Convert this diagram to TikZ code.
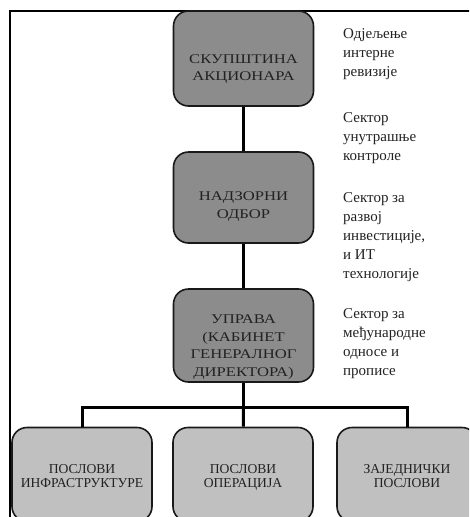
\documentclass[tikz,border=0pt]{standalone}
\usepackage{fontspec}
\setmainfont{Liberation Serif}
\newfontfamily\widefont[FakeStretch=1.25]{Liberation Serif}
\definecolor{darkfill}{HTML}{8C8C8C}
\definecolor{lightfill}{HTML}{C0C0C0}
\definecolor{ink}{HTML}{222222}
\begin{document}
\begin{tikzpicture}[x=1pt,y=-1pt,
  boxbase/.style={draw=black!90, line width=1.6pt, rounded corners=15pt,
    minimum width=140pt, minimum height=94pt, inner sep=0pt},
  darkbox/.style={boxbase, fill=darkfill},
  lightbox/.style={boxbase, fill=lightfill},
  boxtext/.style={align=center, text=ink, inner sep=0pt, anchor=north,
    font=\widefont\fontsize{13.3}{17.4}\selectfont},
  lowtext/.style={align=center, text=ink, inner sep=0pt, anchor=north,
    font=\fontsize{13.6}{13.8}\selectfont},
  sidetext/.style={anchor=north west, inner sep=0pt, align=left, text=ink,
    font=\fontsize{15}{19}\selectfont},
  conn/.style={line width=3pt, black}
]
\path[use as bounding box, clip] (0,0) rectangle (469,517);

% frame
\draw[line width=1.8pt] (10,520) -- (10,11) -- (327,11);
\draw[line width=1.2pt] (327,11) -- (470,11);

% boxes
\node[darkbox, minimum height=95pt] (b1) at (243.5,58.5) {};
\node[darkbox, minimum height=91pt] (b2) at (243.5,197.5) {};
\node[darkbox, minimum height=93pt] (b3) at (243.5,335.5) {};
\node[lightbox] (ba) at (82,474.5) {};
\node[lightbox] (bb) at (243,474.5) {};
\node[lightbox] (bc) at (407,474.5) {};

% box texts
\node[boxtext] (b1t) at (243.5,54.5) {СКУПШТИНА\\АКЦИОНАРА};
\node[boxtext] (b2t) at (243.5,191.9) {НАДЗОРНИ\\ОДБОР};
\node[boxtext] (b3t) at (243.5,315) {УПРАВА\\(КАБИНЕТ\\ГЕНЕРАЛНОГ\\ДИРЕКТОРА)};
\node[lowtext] (bat) at (82,464) {ПОСЛОВИ\\ИНФРАСТРУКТУРЕ};
\node[lowtext] (bbt) at (243,464) {ПОСЛОВИ\\ОПЕРАЦИЈА};
\node[lowtext] (bct) at (407,464) {ЗАЈЕДНИЧКИ\\ПОСЛОВИ};

% connectors
\coordinate (j) at (243.5,407);
\draw[conn] (b1) -- (b2);
\draw[conn] (b2) -- (b3);
\draw[conn] (b3) -- (j);
\draw[conn] (ba.north) |- (j) -| (bc.north);
\draw[conn] (j) -- (bb);

% side texts
\node[sidetext] (t1) at (343,28) {Одјељење\\интерне\\ревизије};
\node[sidetext] (t2) at (343,112) {Сектор\\унутрашње\\контроле};
\node[sidetext] (t3) at (343,192) {Сектор за\\развој\\инвестиције,\\и ИТ\\технологије};
\node[sidetext] (t4) at (343,308) {Сектор за\\међународне\\односе и\\прописе};
\end{tikzpicture}
\end{document}
